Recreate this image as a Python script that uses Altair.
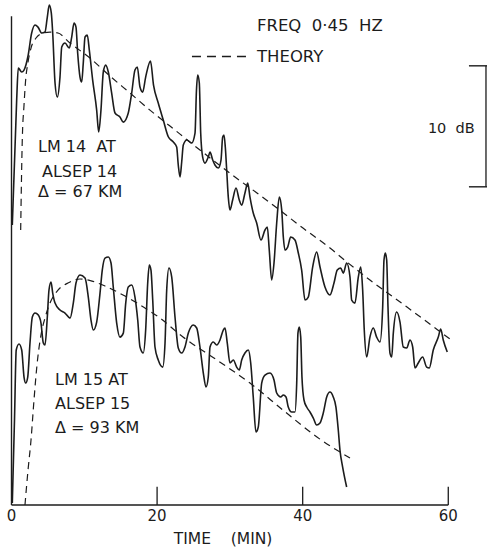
import altair as alt
import pandas as pd

# ---------------- data (time in minutes, relative level in dB) ----------------
lm14_t = [0.11, 0.71, 0.93, 1.40, 1.72, 2.27, 2.77, 3.23, 3.64, 4.15,
          4.60, 4.92, 5.19, 5.47, 5.66, 5.98, 6.29, 6.66, 6.90, 7.35,
          7.94, 8.27, 8.59, 8.86, 9.09, 9.41, 9.64, 9.86, 10.10, 10.41,
          10.69, 11.15, 11.70, 11.98, 12.29, 12.61, 12.94, 13.30, 13.76, 14.22,
          14.90, 15.36, 16.04, 16.51, 16.96, 17.28, 17.65, 18.02, 18.43, 19.09,
          19.51, 20.16, 20.85, 21.54, 22.23, 22.69, 22.91, 23.15, 23.38, 23.60,
          24.07, 24.75, 25.21, 25.41, 25.58, 25.80, 25.99, 26.26, 26.58, 27.03,
          27.27, 27.64, 27.95, 28.41, 28.78, 29.01, 29.19, 29.37, 29.56, 29.78,
          30.01, 30.38, 30.84, 31.29, 31.62, 32.07, 32.45, 32.76, 33.21, 33.68,
          34.27, 34.82, 35.14, 35.41, 35.74, 36.06, 36.43, 36.79, 37.12, 37.34,
          37.57, 37.94, 38.35, 38.94, 39.40, 39.86, 40.32, 40.77, 41.37, 41.92,
          42.38, 43.06, 43.75, 44.30, 44.75, 45.22, 45.58, 46.04, 46.50, 46.73,
          47.18, 47.64, 47.97, 48.24, 48.46, 48.79, 49.24, 49.70, 50.16, 50.62,
          50.99, 51.17, 51.35, 51.54, 51.72, 51.99, 52.23, 52.45, 52.91, 53.37,
          53.82, 54.29, 54.74, 55.11, 55.43, 55.88, 56.48, 57.03, 57.39, 57.94,
          58.63, 58.96, 59.31, 59.86]
lm14_db = [23.14, 33.47, 36.12, 35.79, 35.95, 37.11, 39.01, 39.67, 39.50, 39.01,
           39.09, 40.33, 41.32, 40.66, 39.01, 34.88, 33.72, 35.37, 37.85, 38.18,
           37.77, 38.68, 39.83, 39.50, 37.36, 35.37, 34.96, 36.53, 38.68, 38.84,
           37.60, 35.12, 32.64, 30.83, 32.64, 35.79, 36.36, 35.79, 34.05, 32.40,
           32.07, 31.65, 32.40, 34.05, 35.95, 36.20, 34.55, 34.13, 35.37, 36.69,
           34.71, 33.22, 31.82, 30.44, 30.00, 29.59, 28.10, 27.11, 28.35, 29.75,
           30.17, 29.92, 30.74, 34.30, 35.54, 34.88, 30.74, 28.76, 28.26, 28.76,
           29.17, 28.51, 28.10, 27.85, 28.51, 30.41, 30.58, 29.59, 27.69, 25.45,
           24.38, 25.21, 26.20, 25.21, 24.79, 25.79, 26.61, 25.45, 24.13, 23.31,
           21.90, 22.73, 22.98, 21.07, 18.60, 20.00, 23.31, 25.45, 24.38, 22.15,
           21.07, 21.32, 22.15, 21.90, 20.83, 19.42, 16.94, 17.19, 19.67, 20.91,
           19.67, 18.02, 17.36, 18.35, 19.42, 19.59, 19.17, 20.00, 18.84, 16.94,
           16.69, 18.84, 19.67, 17.77, 14.46, 12.23, 13.88, 14.63, 13.88, 13.47,
           16.36, 20.25, 20.83, 20.25, 16.36, 12.56, 12.23, 14.21, 15.95, 15.12,
           13.06, 12.98, 13.64, 13.06, 11.32, 11.74, 12.23, 11.40, 11.32, 12.81,
           13.88, 14.55, 13.64, 12.64]

lm15_t = [0.11, 0.41, 0.65, 1.03, 1.40, 1.72, 1.95, 2.23, 2.54, 2.86,
          3.23, 3.68, 4.05, 4.37, 4.60, 4.92, 5.15, 5.43, 5.66, 5.98,
          6.66, 7.35, 8.04, 8.49, 8.86, 9.41, 10.10, 10.55, 10.92, 11.24,
          11.70, 12.16, 12.47, 12.84, 13.30, 13.67, 13.98, 14.45, 14.90, 15.36,
          15.69, 16.04, 16.51, 16.96, 17.34, 17.65, 18.10, 18.43, 18.71, 18.93,
          19.16, 19.40, 19.71, 20.16, 20.77, 21.09, 21.32, 21.63, 22.01, 22.46,
          22.91, 23.38, 23.83, 24.29, 24.97, 25.44, 25.89, 26.35, 26.72, 27.03,
          27.27, 27.72, 28.19, 28.64, 29.09, 29.33, 29.64, 30.01, 30.47, 30.93,
          31.29, 31.62, 32.07, 32.53, 32.86, 33.21, 33.58, 33.90, 34.37, 34.82,
          35.51, 36.06, 36.43, 36.98, 37.34, 37.71, 38.02, 38.49, 38.94, 39.18,
          39.35, 39.53, 39.73, 39.90, 40.18, 40.55, 41.00, 41.46, 41.92, 42.38,
          42.83, 43.30, 43.75, 44.20, 44.57, 44.89, 45.12, 45.49, 46.04]
lm15_db = [0.17, 7.02, 12.81, 13.31, 12.81, 10.58, 10.08, 10.58, 13.39, 15.54,
           15.87, 15.70, 15.04, 13.39, 13.22, 15.54, 17.77, 18.43, 17.52, 16.69,
           16.12, 15.87, 15.45, 16.69, 18.35, 19.01, 18.76, 17.19, 15.29, 14.46,
           15.12, 17.52, 19.42, 20.41, 20.50, 20.00, 18.02, 15.04, 13.88, 14.21,
           16.69, 18.02, 18.18, 17.19, 15.29, 13.06, 12.56, 14.46, 18.35, 19.83,
           19.42, 16.94, 13.06, 11.98, 11.40, 13.39, 17.77, 19.59, 18.84, 15.54,
           12.98, 12.56, 13.06, 14.21, 14.88, 14.63, 13.06, 10.91, 9.75, 10.58,
           13.06, 13.47, 13.22, 13.64, 14.46, 14.63, 13.39, 11.74, 11.98, 11.40,
           11.16, 11.98, 12.56, 12.81, 11.74, 8.93, 6.03, 6.45, 10.08, 10.74,
           10.91, 10.33, 9.26, 8.93, 9.09, 8.93, 8.10, 7.69, 7.69, 10.08,
           14.21, 14.71, 13.88, 10.58, 8.68, 8.10, 7.69, 7.19, 6.61, 6.78,
           7.60, 8.93, 9.34, 8.93, 8.10, 6.20, 4.55, 3.14, 1.49]

th14_t = [1.26, 1.48, 1.72, 1.92, 2.27, 2.68, 3.37, 4.33, 5.29, 6.39, 8.04, 10.78, 13.53,
          16.28, 19.02, 21.77, 25.89, 30.70, 33.72, 36.47, 40.04, 43.75, 46.09, 49.24, 54.33, 60.23]
th14_db = [22.73, 30.17, 33.06, 34.96, 36.61, 37.77, 38.60, 39.01, 39.09, 39.01, 38.18, 36.94, 35.45,
           34.05, 32.64, 31.32, 29.34, 27.11, 25.79, 24.55, 22.89, 21.24, 20.08, 18.60, 16.36, 13.72]

th15_t = [1.85, 2.27, 2.68, 3.09, 3.50, 4.05, 4.60, 5.29, 6.39, 7.76, 9.41, 11.06,
          12.84, 15.59, 18.34, 20.40, 23.56, 28.23, 32.76, 37.29, 41.96, 46.50]
th15_db = [0.00, 2.89, 5.37, 8.68, 11.57, 14.05, 15.45, 16.69, 17.77, 18.35, 18.68, 18.51,
           18.10, 17.27, 16.28, 15.45, 13.88, 11.98, 10.08, 7.85, 5.62, 3.88]

NB = "\u00a0"
tick_values = [0, 20, 40, 60]
tick_labels = ["0", "20", "40", "60"]
x_title_words = ["TIME", "(MIN)"]
freq_label = f"FREQ{NB}{NB}0·45{NB}{NB}HZ"
legend_label = "THEORY"
scale_label = f"10{NB}{NB}dB"
scale_bar_db = [26.3, 36.3]          # 10 dB scale bar
lm14_label = [f"LM{NB}14{NB}{NB}AT", "ALSEP 14", f"Δ{NB}={NB}67{NB}KM"]
lm15_label = [f"LM{NB}15{NB}AT", "ALSEP 15", f"Δ{NB}={NB}93{NB}KM"]

# ---------------- chart ----------------
INK = "#1c1c1c"
FONT = "DejaVu Sans"
xs = alt.Scale(domain=[-1.58, 65.32], nice=False, zero=False)
ys = alt.Scale(domain=[-3.80, 41.74], nice=False, zero=False)


def X(f="t"):
    return alt.X(f"{f}:Q", scale=xs, axis=None)


def Y(f="db"):
    return alt.Y(f"{f}:Q", scale=ys, axis=None)


obs_df = pd.concat([
    pd.DataFrame({"series": "LM14", "t": lm14_t, "db": lm14_db}),
    pd.DataFrame({"series": "LM15", "t": lm15_t, "db": lm15_db}),
])
th_df = pd.concat([
    pd.DataFrame({"series": "TH14", "t": th14_t, "db": th14_db}),
    pd.DataFrame({"series": "TH15", "t": th15_t, "db": th15_db}),
])

obs = alt.Chart(obs_df).mark_line(
    stroke=INK, strokeWidth=1.6, interpolate="monotone"
).encode(x=X(), y=Y(), detail="series:N", order="t:Q")

theory = alt.Chart(th_df).mark_line(
    stroke=INK, strokeWidth=1.2, strokeDash=[7, 5], interpolate="monotone"
).encode(x=X(), y=Y(), detail="series:N", order="t:Q")

# axes drawn as rules
axis_x = alt.Chart(pd.DataFrame({"t": [0], "t2": [60], "db": [0]})).mark_rule(
    stroke=INK, strokeWidth=1.4
).encode(x=X(), x2="t2:Q", y=Y())
axis_y = alt.Chart(pd.DataFrame({"t": [0], "db": [0], "db2": [40.4]})).mark_rule(
    stroke=INK, strokeWidth=1.4
).encode(x=X(), y=Y(), y2="db2:Q")
ticks = alt.Chart(pd.DataFrame({"t": tick_values[1:], "db": [0] * 3, "db2": [1.5] * 3})).mark_rule(
    stroke=INK, strokeWidth=1.3
).encode(x=X(), y=Y(), y2="db2:Q")
tick_text = alt.Chart(pd.DataFrame({"t": tick_values, "db": [-0.9] * 4, "lab": tick_labels})).mark_text(
    font=FONT, fontSize=15, color=INK, align="center", baseline="middle"
).encode(x=X(), y=Y(), text="lab:N")
title_text = alt.Chart(pd.DataFrame({"t": [24.85, 32.98], "db": [-2.8, -2.8], "lab": x_title_words})).mark_text(
    font=FONT, fontSize=15.5, color=INK, align="center", baseline="middle"
).encode(x=X(), y=Y(), text="lab:N")

# scale bar
bar_v = alt.Chart(pd.DataFrame({"t": [65.18], "db": [scale_bar_db[0]], "db2": [scale_bar_db[1]]})).mark_rule(
    stroke=INK, strokeWidth=1.3
).encode(x=X(), y=Y(), y2="db2:Q")
bar_h = alt.Chart(pd.DataFrame({"t": [62.84, 62.84], "t2": [65.32, 65.32], "db": scale_bar_db})).mark_rule(
    stroke=INK, strokeWidth=1.4
).encode(x=X(), x2="t2:Q", y=Y())
bar_text = alt.Chart(pd.DataFrame({"t": [57.2], "db": [31.1], "lab": [scale_label]})).mark_text(
    font=FONT, fontSize=14.5, color=INK, align="left", baseline="middle"
).encode(x=X(), y=Y(), text="lab:N")

# legend / headings
legend_dash = alt.Chart(pd.DataFrame({"t": [24.79], "t2": [32.55], "db": [37.07]})).mark_rule(
    stroke=INK, strokeWidth=1.3, strokeDash=[9, 6]
).encode(x=X(), x2="t2:Q", y=Y())
head_text = alt.Chart(pd.DataFrame({
    "t": [33.72, 33.72], "db": [39.63, 37.07], "lab": [freq_label, legend_label]
})).mark_text(font=FONT, fontSize=16.5, color=INK, align="left", baseline="middle").encode(
    x=X(), y=Y(), text="lab:N")

lab14 = alt.Chart(pd.DataFrame({
    "t": [3.64, 4.19, 3.64], "db": [29.55, 27.52, 25.83], "lab": lm14_label
})).mark_text(font=FONT, fontSize=16, color=INK, align="left", baseline="middle").encode(
    x=X(), y=Y(), text="lab:N")
lab15 = alt.Chart(pd.DataFrame({
    "t": [5.98, 5.98, 5.98], "db": [10.33, 8.35, 6.40], "lab": lm15_label
})).mark_text(font=FONT, fontSize=16, color=INK, align="left", baseline="middle").encode(
    x=X(), y=Y(), text="lab:N")

chart = alt.layer(
    theory, obs, axis_x, axis_y, ticks, tick_text, title_text,
    bar_v, bar_h, bar_text, legend_dash, head_text, lab14, lab15
).properties(
    width=487, height=551, autosize=alt.AutoSizeParams(type="none"), padding=0,
    background="white"
).configure_view(stroke=None)

chart.save("out.html", embed_options={"renderer": "svg", "actions": False})
